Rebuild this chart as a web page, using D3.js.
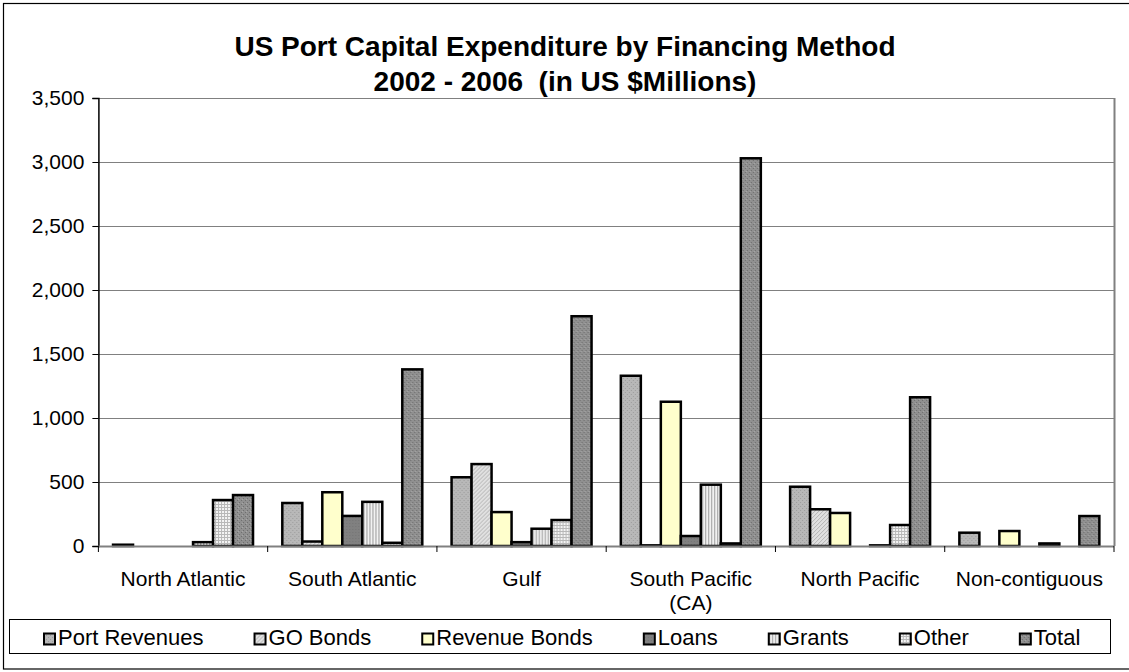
<!DOCTYPE html>
<html><head><meta charset="utf-8">
<script src="https://cdn.jsdelivr.net/npm/d3@7"></script>
<style>body{margin:0;background:#fff;} svg{display:block;font-family:"Liberation Sans",Arial,sans-serif;}</style>
</head><body>
<script>
const categories = ["North Atlantic","South Atlantic","Gulf","South Pacific\n(CA)","North Pacific","Non-contiguous"];
const seriesNames = ["Port Revenues","GO Bonds","Revenue Bonds","Loans","Grants","Other","Total"];
const portRevenues = [10, 336, 537, 1330, 463, 104];
const goBonds      = [0, 35, 640, 5, 287, 0];
const revenueBonds = [0, 420, 265, 1127, 258, 117];
const loans        = [0, 235, 30, 78, 0, 0];
const grants       = [30, 345, 135, 479, 5, 20];
const other        = [359, 25, 203, 20, 164, 0];
const total        = [398, 1380, 1795, 3029, 1162, 234];
const yTicks = [0,500,1000,1500,2000,2500,3000,3500];
const titleLines = ["US Port Capital Expenditure by Financing Method","2002 - 2006  (in US $Millions)"];

const seriesValues = [portRevenues, goBonds, revenueBonds, loans, grants, other, total];
const W = 1129, H = 672;
const M = {left: 98.4, right: 1114, top: 98, bottom: 546};
const FONT = "Liberation Sans, Arial, sans-serif";

const svg = d3.select("body").append("svg").attr("width", W).attr("height", H);
const defs = svg.append("defs");

function pat(id, bg, draw, size) {
  const p = defs.append("pattern").attr("id", id).attr("patternUnits","userSpaceOnUse")
    .attr("width", size).attr("height", size);
  p.append("rect").attr("width", size).attr("height", size).attr("fill", bg);
  draw(p);
}
function dot(p, x, y, c) { p.append("rect").attr("x",x).attr("y",y).attr("width",1).attr("height",1).attr("fill",c); }
pat("pPort", "#b8b8b8", p => { dot(p,0,0,"#9c9c9c"); dot(p,2,2,"#9c9c9c"); }, 4);
pat("pGO", "#e0e0e0", p => { p.append("path").attr("d","M0,4 L4,0").attr("stroke","#b4b4b4").attr("stroke-width",1); }, 4);
pat("pRev", "#ffffcc", p => {}, 4);
pat("pLoans", "#808080", p => { dot(p,1,1,"#747474"); }, 3);
pat("pGrants", "#ffffff", p => { p.append("rect").attr("x",0).attr("y",0).attr("width",1).attr("height",3).attr("fill","#a8a8a8"); p.append("rect").attr("x",1).attr("y",0).attr("width",1).attr("height",3).attr("fill","#d8d8d8"); }, 3);
pat("pOther", "#f4f4f4", p => { p.append("rect").attr("x",0).attr("y",0).attr("width",3).attr("height",1).attr("fill","#b8b8b8"); p.append("rect").attr("x",0).attr("y",0).attr("width",1).attr("height",3).attr("fill","#b8b8b8"); }, 3);
pat("pTotal", "#909090", p => { dot(p,0,0,"#6e6e6e"); dot(p,2,2,"#6e6e6e"); dot(p,1,3,"#a8a8a8"); }, 4);
const fills = ["url(#pPort)","url(#pGO)","url(#pRev)","url(#pLoans)","url(#pGrants)","url(#pOther)","url(#pTotal)"];

// outer border
svg.append("rect").attr("x",3.5).attr("y",3.5).attr("width",1130).attr("height",665.5)
  .attr("fill","none").attr("stroke","#000").attr("stroke-width",1.2);

// title
svg.append("g").selectAll("text").data(titleLines).join("text")
  .attr("x", 565).attr("y", (d,i) => 56 + i*35)
  .attr("text-anchor","middle").attr("font-weight","bold").attr("font-size", 28)
  .attr("xml:space","preserve").style("white-space","pre")
  .text(d => d);

const y = d3.scaleLinear().domain([0, 3500]).range([M.bottom, M.top]);
const x0 = d3.scaleBand().domain(categories).range([M.left, M.right]).paddingInner(0.173).paddingOuter(0.0865);
const x1 = d3.scaleBand().domain(seriesNames).range([0, x0.bandwidth()]);

// gridlines
svg.append("g").selectAll("line").data(yTicks.filter(d => d > 0)).join("line")
  .attr("x1", M.left).attr("x2", M.right)
  .attr("y1", d => Math.round(y(d)) + 0.5).attr("y2", d => Math.round(y(d)) + 0.5)
  .attr("stroke", "#808080").attr("stroke-width", 1);
svg.append("line").attr("x1", M.right + 0.5).attr("x2", M.right + 0.5).attr("y1", M.top).attr("y2", M.bottom)
  .attr("stroke","#808080").attr("stroke-width",2);

// bars
const groups = svg.append("g").selectAll("g").data(categories).join("g")
  .attr("transform", d => `translate(${x0(d)},0)`);
groups.selectAll("rect").data((c, ci) => seriesNames.map((s, si) => ({s, si, v: seriesValues[si][ci]})).filter(d => d.v > 0))
  .join("rect")
  .attr("x", d => x1(d.s)).attr("width", x1.bandwidth())
  .attr("y", d => y(d.v)).attr("height", d => y(0) - y(d.v))
  .attr("fill", d => fills[d.si]).attr("stroke", "#000").attr("stroke-width", 2.5);

// y axis
const yAxis = d3.axisLeft(y).tickValues(yTicks).tickSize(6).tickPadding(8).tickFormat(d3.format(","));
const gy = svg.append("g").attr("transform", `translate(${M.left},0)`).call(yAxis);
gy.select(".domain").attr("stroke","#000").attr("stroke-width",1.5);
gy.selectAll(".tick line").attr("stroke","#000");
gy.selectAll("text").attr("font-size", 21).attr("font-family", FONT).attr("fill","#000");

// x axis baseline
svg.append("line").attr("x1", M.left).attr("x2", M.right).attr("y1", M.bottom + 0.5).attr("y2", M.bottom + 0.5)
  .attr("stroke","#808080").attr("stroke-width",2);
const step = x0.step();
const bounds = d3.range(categories.length + 1).map(i => M.left + i * step);
svg.append("g").selectAll("line").data(bounds).join("line")
  .attr("x1", d => d).attr("x2", d => d).attr("y1", M.bottom).attr("y2", M.bottom + 6)
  .attr("stroke", "#000").attr("stroke-width", 1);
const lbl = svg.append("g").selectAll("text").data(categories).join("text")
  .attr("text-anchor","middle").attr("font-size", 21).attr("fill","#000");
lbl.each(function(d, i) {
  const t = d3.select(this);
  d.split("\n").forEach((line, k) => {
    t.append("tspan").attr("x", M.left + i*step + step/2).attr("y", 586 + k*24).text(line);
  });
});

// legend
const legend = svg.append("g");
legend.append("rect").attr("x", 9.5).attr("y", 619.5).attr("width", 1101).attr("height", 34)
  .attr("fill","#fff").attr("stroke","#000").attr("stroke-width",1);
const li = legend.selectAll("g.item").data(seriesNames).join("g").attr("class","item");
li.append("rect").attr("x", 0).attr("y", -11.5).attr("width", 11).attr("height", 11).attr("fill", (d,i) => fills[i]).attr("stroke","#000").attr("stroke-width",2);
li.append("text").attr("x", 14).attr("y", 0).attr("font-size", 22).text(d => d);
let lx = 44;
li.each(function() {
  const g = d3.select(this);
  g.attr("transform", `translate(${lx},645)`);
  lx += 14 + g.select("text").node().getComputedTextLength() + 51;
});
</script>
</body></html>
